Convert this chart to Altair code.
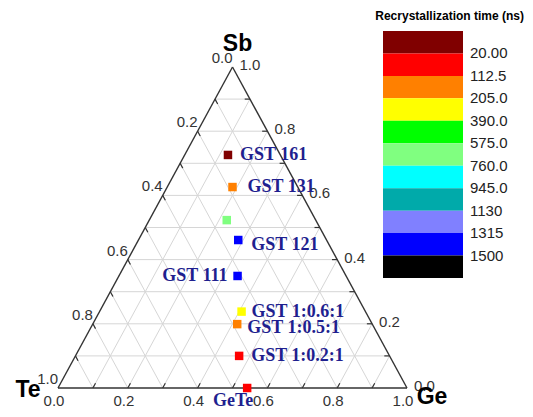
import altair as alt
import pandas as pd

# ---------------- data ----------------
COMPOUNDS = ["GST 161", "GST 131", "", "GST 121", "GST 111",
             "GST 1:0.6:1", "GST 1:0.5:1", "GST 1:0.2:1", "GeTe"]
GE_FRAC = [0.124, 0.187, 0.222, 0.286, 0.340, 0.407, 0.414, 0.469, 0.542]
SB_FRAC = [0.726, 0.626, 0.523, 0.461, 0.349, 0.238, 0.199, 0.100, 0.000]
TIME_LEVEL = [0, 2, 5, 9, 9, 3, 2, 1, 1]   # index of the colour band

CBAR_COLORS = ["#800000", "#ff0000", "#ff8000", "#ffff00", "#00ff00", "#80ff80",
               "#00ffff", "#00aaaa", "#8080ff", "#0000ff", "#000000"]
CBAR_LABELS = ["20.00", "112.5", "205.0", "390.0", "575.0", "760.0",
               "945.0", "1130", "1315", "1500"]
CBAR_TITLE = "Recrystallization time (ns)"

AXIS_TICKS = [0.0, 0.2, 0.4, 0.6, 0.8, 1.0]
GRID_STEPS = [0.1, 0.2, 0.3, 0.4, 0.5, 0.6, 0.7, 0.8, 0.9]
VERTEX_NAMES = ["Sb", "Te", "Ge"]

# ---------------- layout (styles / positions) ----------------
W, H = 517, 401
BASE_PX, HEIGHT_PX = 349.0, 321.0
ORIGIN_X, ORIGIN_Y = 50.0, 380.0
X_DOMAIN = [-ORIGIN_X / BASE_PX, (W - ORIGIN_X) / BASE_PX]
Y_DOMAIN = [(ORIGIN_Y - H) / HEIGHT_PX, ORIGIN_Y / HEIGHT_PX]
TICK_LEN = 0.015
SANS = "Liberation Sans"
SERIF = "Liberation Serif"
LABEL_COLOR = "#1f1f8f"


def tern(ge, sb):
    return ge + sb / 2.0, sb


XS = alt.Scale(domain=X_DOMAIN, nice=False, zero=False)
YS = alt.Scale(domain=Y_DOMAIN, nice=False, zero=False)


def seg_df(rows):
    out = []
    for ge1, sb1, ge2, sb2 in rows:
        x1, y1 = tern(ge1, sb1)
        x2, y2 = tern(ge2, sb2)
        out.append({"x": x1, "y": y1, "x2": x2, "y2": y2})
    return pd.DataFrame(out)


def seg_layer(df, color, width):
    return alt.Chart(df).mark_rule(color=color, strokeWidth=width).encode(
        x=alt.X("x:Q", scale=XS, axis=None),
        y=alt.Y("y:Q", scale=YS, axis=None),
        x2="x2:Q", y2="y2:Q")


# grid lines
grid_rows = []
for v in GRID_STEPS:
    grid_rows.append((0.0, v, 1.0 - v, v))      # constant Sb
    grid_rows.append((v, 0.0, v, 1.0 - v))      # constant Ge
    grid_rows.append((1.0 - v, 0.0, 0.0, 1.0 - v))  # constant Te
grid = seg_layer(seg_df(grid_rows), "#d6d6d6", 1)

# ticks
tick_rows = []
for v in GRID_STEPS:
    tick_rows.append((0.0, 1.0 - v, TICK_LEN, 1.0 - v - TICK_LEN))  # Te axis (left)
    tick_rows.append((v, 0.0, v, TICK_LEN))                         # Ge axis (bottom)
    tick_rows.append((1.0 - v, v, 1.0 - v - TICK_LEN, v))           # Sb axis (right)
ticks = seg_layer(seg_df(tick_rows), "#333333", 1.2)

# triangle edges
edges = seg_layer(seg_df([(0.0, 1.0, 0.0, 0.0), (0.0, 0.0, 1.0, 0.0), (1.0, 0.0, 0.0, 1.0)]),
                  "#333333", 1.4)


def text_df(points, texts):
    rows = []
    for (ge, sb), t in zip(points, texts):
        x, y = tern(ge, sb)
        rows.append({"x": x, "y": y, "t": t})
    return pd.DataFrame(rows)


def text_layer(df, **kw):
    return alt.Chart(df).mark_text(**kw).encode(
        x=alt.X("x:Q", scale=XS, axis=None),
        y=alt.Y("y:Q", scale=YS, axis=None),
        text="t:N")


tick_texts = [f"{v:.1f}" for v in AXIS_TICKS]
left_lbl = text_layer(text_df([(0.0, 1.0 - v) for v in AXIS_TICKS], tick_texts),
                      align="right", baseline="bottom", dx=0, dy=-1,
                      font=SANS, fontSize=15, color="#333333")
bottom_lbl = text_layer(text_df([(v, 0.0) for v in AXIS_TICKS], tick_texts),
                        align="center", baseline="alphabetic", dx=-4, dy=18,
                        font=SANS, fontSize=15, color="#333333")
right_lbl = text_layer(text_df([(1.0 - v, v) for v in AXIS_TICKS], tick_texts),
                       align="left", baseline="middle", dx=7, dy=-2,
                       font=SANS, fontSize=15, color="#333333")

vertex_pts = [(0.0, 1.0), (0.0, 0.0), (1.0, 0.0)]
vertex_off = [(5, -23), (-30, 2), (25, 9)]
vertex_layers = []
for (pt, name, (dx, dy)) in zip(vertex_pts, VERTEX_NAMES, vertex_off):
    vertex_layers.append(text_layer(text_df([pt], [name]), align="center", baseline="middle",
                                    dx=dx, dy=dy, font=SANS, fontSize=23,
                                    fontWeight="bold", color="#000000"))

# data points
pts_rows = []
for name, ge, sb, lv in zip(COMPOUNDS, GE_FRAC, SB_FRAC, TIME_LEVEL):
    x, y = tern(ge, sb)
    pts_rows.append({"x": x, "y": y, "name": name, "level": lv})
pts_df = pd.DataFrame(pts_rows)
COLOR_SCALE = alt.Scale(domain=list(range(len(CBAR_COLORS))), range=CBAR_COLORS)
points = alt.Chart(pts_df).mark_square(size=72, opacity=1).encode(
    x=alt.X("x:Q", scale=XS, axis=None),
    y=alt.Y("y:Q", scale=YS, axis=None),
    color=alt.Color("level:O", scale=COLOR_SCALE, legend=None))

LABEL_STYLE = {
    "GST 161": ("left", "middle", 12, 0),
    "GST 131": ("left", "middle", 15, 0),
    "GST 121": ("left", "middle", 13, 5),
    "GST 111": ("right", "middle", -10, 0),
    "GST 1:0.6:1": ("left", "middle", 10, 0),
    "GST 1:0.5:1": ("left", "middle", 10, 4),
    "GST 1:0.2:1": ("left", "middle", 12, 0),
    "GeTe": ("center", "alphabetic", -14, 18),
}
name_layers = []
for name, ge, sb in zip(COMPOUNDS, GE_FRAC, SB_FRAC):
    if not name:
        continue
    align, base, dx, dy = LABEL_STYLE[name]
    name_layers.append(text_layer(text_df([(ge, sb)], [name]), align=align, baseline=base,
                                  dx=dx, dy=dy, font=SERIF, fontSize=18,
                                  fontWeight="bold", color=LABEL_COLOR))

# colour bar
CB_Y = alt.Scale(domain=list(range(len(CBAR_COLORS))), range=[23, 270],
                 paddingInner=0, paddingOuter=0)
cb_df = pd.DataFrame({"idx": list(range(len(CBAR_COLORS)))})
cb_rect = alt.Chart(cb_df).mark_rect().encode(
    y=alt.Y("idx:O", scale=CB_Y, axis=None),
    x=alt.value(375), x2=alt.value(455),
    color=alt.Color("idx:O", scale=COLOR_SCALE, legend=None))
cbl_df = pd.DataFrame({"idx": list(range(len(CBAR_LABELS))), "t": CBAR_LABELS})
band_h = (270 - 23) / len(CBAR_COLORS)
cb_text = alt.Chart(cbl_df).mark_text(align="left", baseline="middle", dy=band_h / 2,
                                      font=SANS, fontSize=15, color="#222222").encode(
    y=alt.Y("idx:O", scale=CB_Y, axis=None),
    x=alt.value(462), text="t:N")
cb_title = alt.Chart(pd.DataFrame({"t": [CBAR_TITLE]})).mark_text(
    align="right", baseline="middle", font=SANS, fontSize=12, fontWeight="bold",
    color="#000000").encode(x=alt.value(516), y=alt.value(8), text="t:N")

chart = alt.layer(
    grid, ticks, edges, left_lbl, bottom_lbl, right_lbl, *vertex_layers,
    points, *name_layers, cb_rect, cb_text, cb_title
).resolve_scale(x="independent", y="independent").properties(
    width=W, height=H,
    autosize=alt.AutoSizeParams(type="none"),
    padding={"left": 0, "top": 0, "right": 0, "bottom": 0},
    background="white",
).configure_view(stroke=None)

chart.save("out.html", embed_options={"renderer": "svg", "actions": False})
